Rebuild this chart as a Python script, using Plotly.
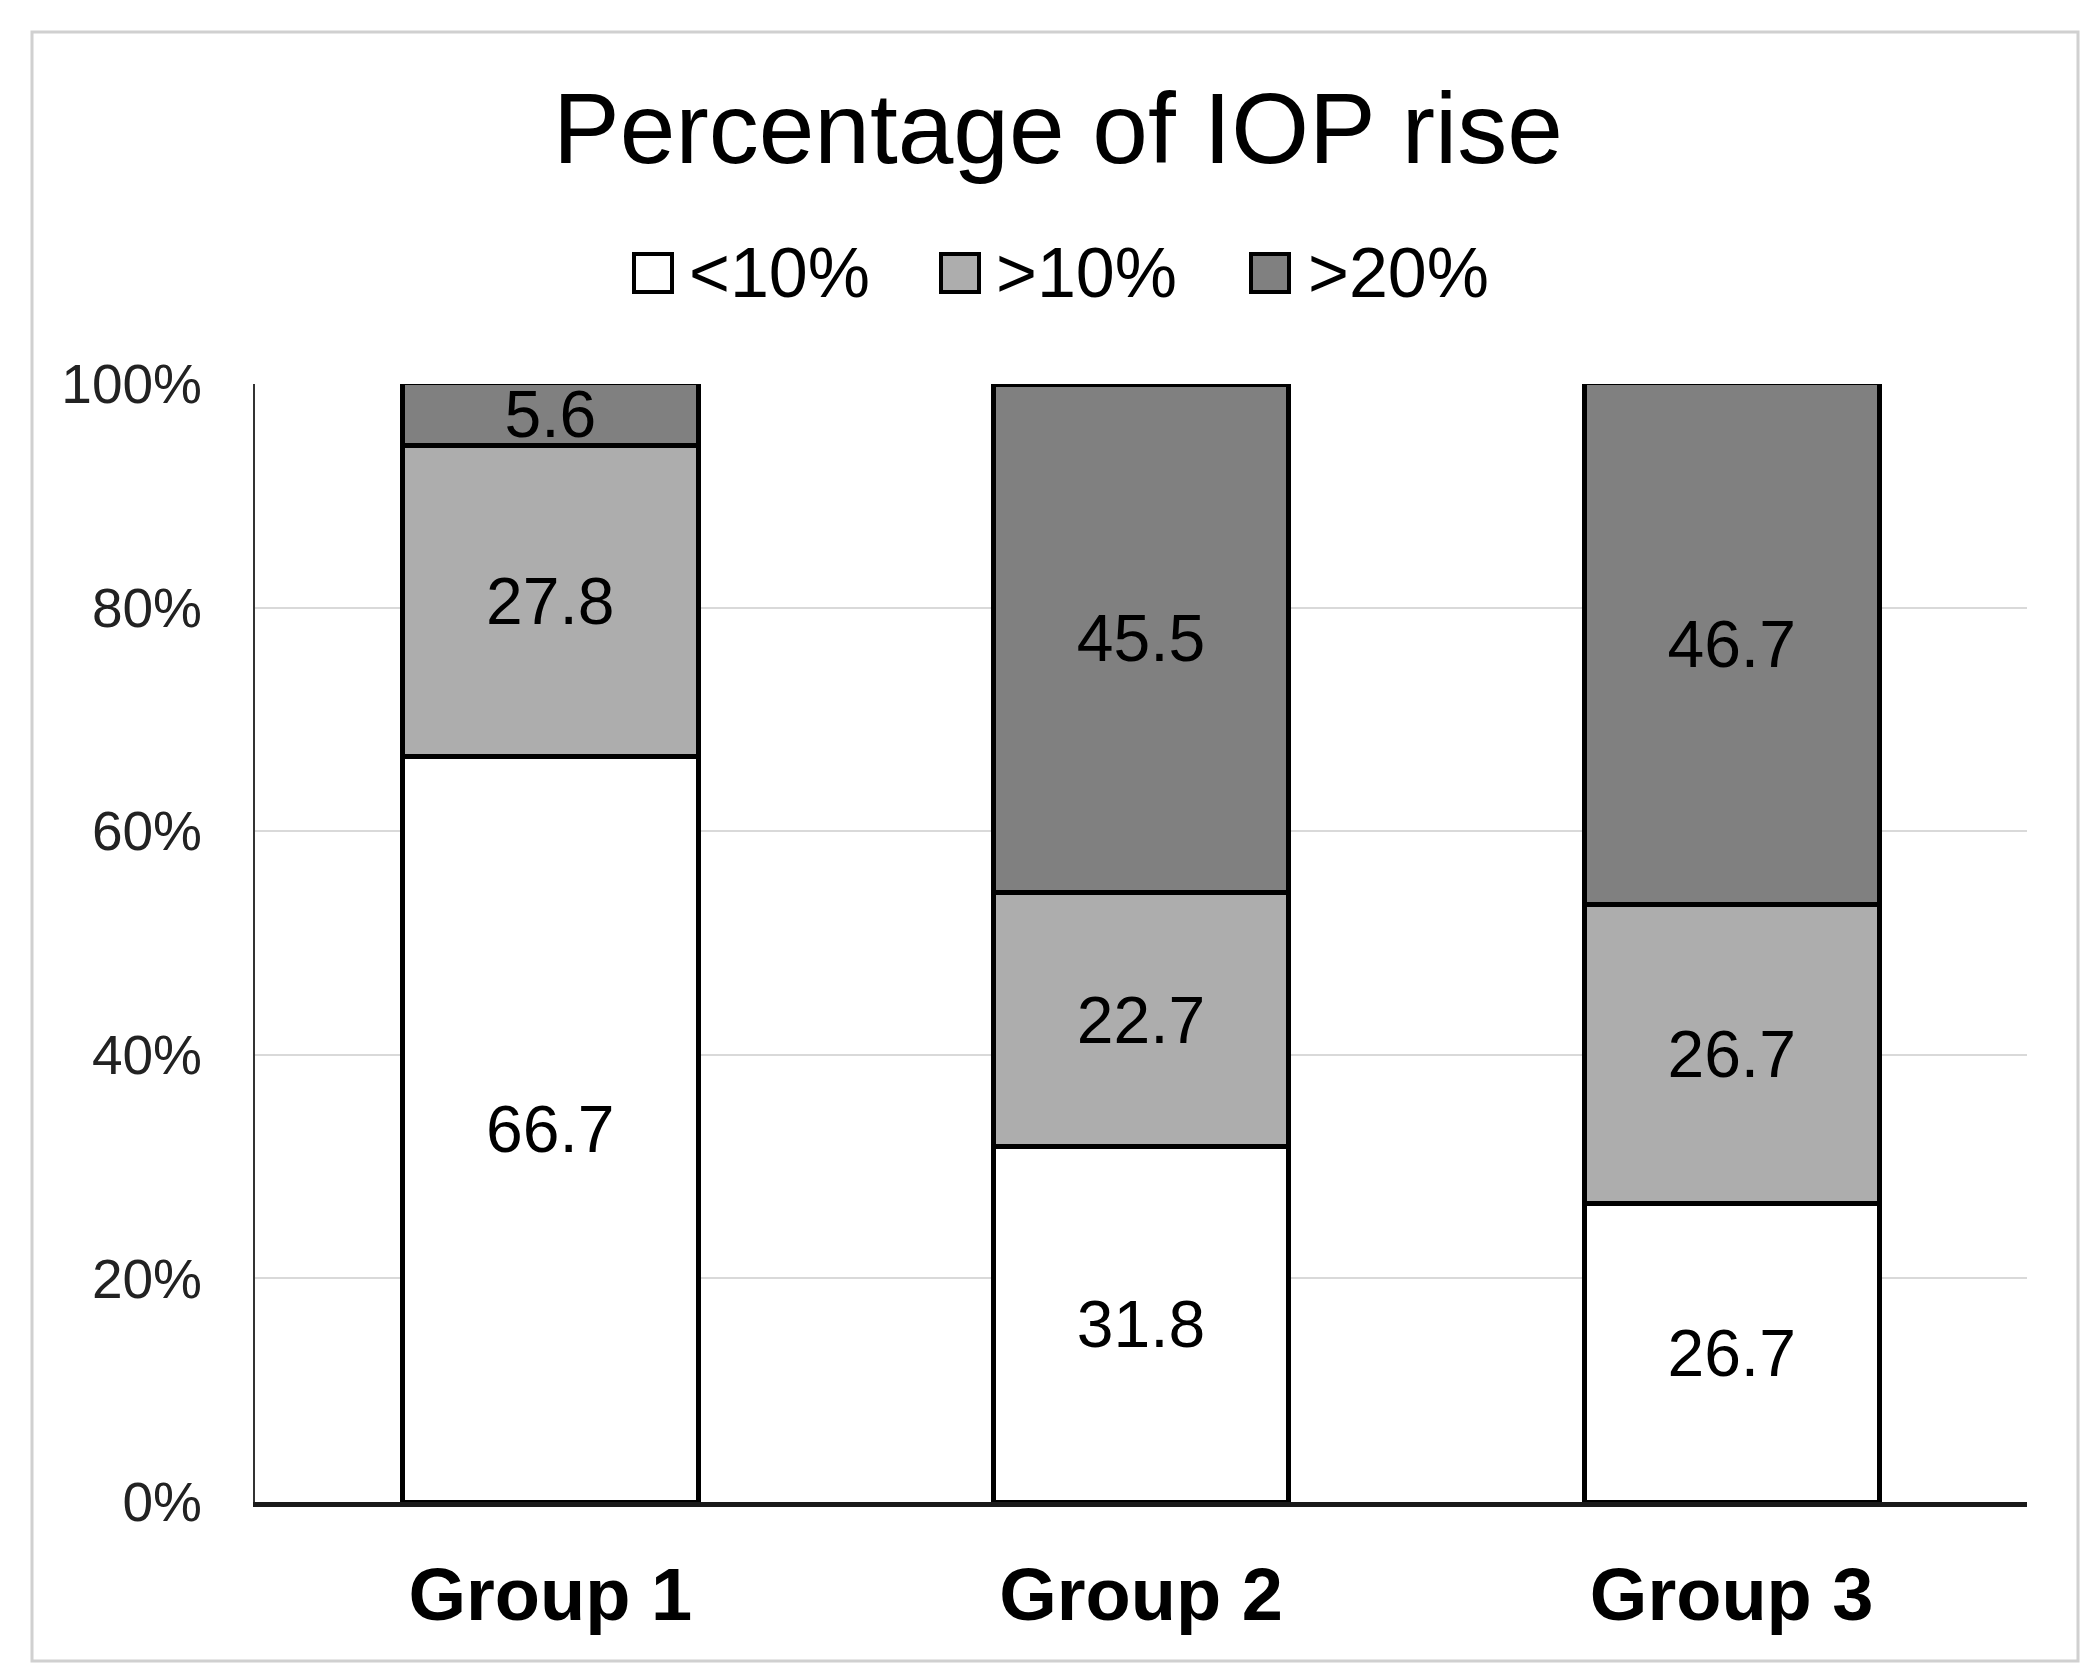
import plotly.graph_objects as go

categories = ["Group 1", "Group 2", "Group 3"]
series_names = ["<10%", ">10%", ">20%"]
lt10 = [66.7, 31.8, 26.7]
gt10 = [27.8, 22.7, 26.7]
gt20 = [5.6, 45.5, 46.7]
colors = ["#FFFFFF", "#ADADAD", "#808080"]
y_ticks = [0, 20, 40, 60, 80, 100]
y_ticktext = ["0%", "20%", "40%", "60%", "80%", "100%"]

W, H = 2091, 1665
L, R, T, B = 247, 72, 376, 171
PW, PH = W - L - R, H - T - B

def px(x):
    return (x - L) / PW

def py(y):
    return (H - B - y) / PH

FONT = "Arial, Liberation Sans, sans-serif"

fig = go.Figure()
for name, vals, col in zip(series_names, [lt10, gt10, gt20], colors):
    fig.add_trace(go.Bar(
        x=categories, y=vals, name=name,
        marker=dict(color=col, line=dict(color="#000000", width=5)),
        text=[f"{v:.1f}" for v in vals],
        textposition="inside", insidetextanchor="middle", textangle=0,
        textfont=dict(family=FONT, size=66, color="#000000"),
        showlegend=False,
    ))

shapes = [
    dict(type="rect", xref="paper", yref="paper",
         x0=px(24), x1=px(2070), y0=py(1653), y1=py(24),
         line=dict(color="#D0D0D0", width=3), fillcolor="rgba(0,0,0,0)", layer="below"),
]
annotations = []
legend_sq_x = [626, 933, 1243]
legend_tx_x = [685, 992, 1304]
for name, col, sx, tx in zip(series_names, colors, legend_sq_x, legend_tx_x):
    shapes.append(dict(type="rect", xref="paper", yref="paper",
                       x0=px(sx), x1=px(sx + 38), y0=py(284), y1=py(246),
                       line=dict(color="#000000", width=4), fillcolor=col))
    annotations.append(dict(xref="paper", yref="paper", x=px(tx - 6), y=py(265),
                            xanchor="left", yanchor="middle", text=name, showarrow=False,
                            font=dict(family=FONT, size=70, color="#000000")))

fig.update_layout(
    width=W, height=H,
    margin=dict(l=L, r=R, t=T, b=B),
    barmode="stack", bargap=0.5,
    paper_bgcolor="#FFFFFF", plot_bgcolor="#FFFFFF",
    title=dict(text="Percentage of IOP rise", x=1050 / W, xanchor="center",
               y=1 - 120 / H, yanchor="middle",
               font=dict(family=FONT, size=100, color="#000000")),
    uniformtext=dict(minsize=66, mode="show"),
    shapes=shapes, annotations=annotations,
    xaxis=dict(showline=True, linecolor="#1A1A1A", linewidth=5,
               showgrid=False, ticks="", ticklabelstandoff=24,
               tickfont=dict(family=FONT, size=74, color="#000000", weight="bold")),
    yaxis=dict(range=[0, 100], tickvals=y_ticks, ticktext=y_ticktext,
               showline=True, linecolor="#333333", linewidth=2,
               showgrid=True, gridcolor="#D9D9D9", gridwidth=2,
               zeroline=False, ticks="", ticklabelstandoff=40,
               tickfont=dict(family=FONT, size=55, color="#222222")),
)

fig.write_html("out.html")
